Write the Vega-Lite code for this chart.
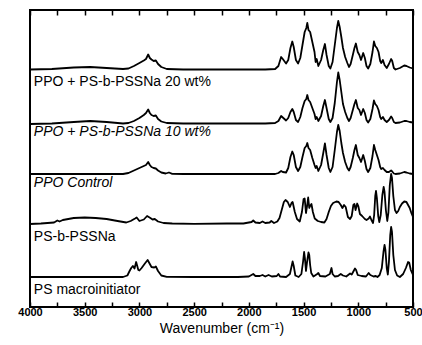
{
"$schema": "https://vega.github.io/schema/vega-lite/v6.json",
"width": 383, "height": 297,
"autosize": {"type": "none"},
"padding": {"left": 30, "top": 10, "right": 9, "bottom": 38},
"background": "white",
"config": {"font": "Liberation Sans", "view": {"stroke": "black", "strokeWidth": 2}},
"datasets": {
"spectra": [
{"s":"20","wn":4000,"a":237.5},{"s":"20","wn":3800,"a":238},{"s":"20","wn":3600,"a":239.5},{"s":"20","wn":3450,"a":240},{"s":"20","wn":3300,"a":239},{"s":"20","wn":3150,"a":238},{"s":"20","wn":3100,"a":238.5},{"s":"20","wn":3050,"a":241},{"s":"20","wn":3000,"a":244},{"s":"20","wn":2960,"a":246.5},{"s":"20","wn":2940,"a":248},{"s":"20","wn":2920,"a":252.5},{"s":"20","wn":2905,"a":249},{"s":"20","wn":2890,"a":247.5},{"s":"20","wn":2870,"a":246},{"s":"20","wn":2850,"a":246.5},{"s":"20","wn":2830,"a":243},{"s":"20","wn":2800,"a":240},{"s":"20","wn":2750,"a":238},{"s":"20","wn":2600,"a":237.5},{"s":"20","wn":2400,"a":237.5},{"s":"20","wn":2200,"a":237.5},{"s":"20","wn":2000,"a":237.5},{"s":"20","wn":1850,"a":237.5},{"s":"20","wn":1760,"a":238},{"s":"20","wn":1730,"a":241},{"s":"20","wn":1705,"a":250},{"s":"20","wn":1690,"a":248},{"s":"20","wn":1660,"a":243.5},{"s":"20","wn":1640,"a":247},{"s":"20","wn":1620,"a":259},{"s":"20","wn":1603,"a":265.5},{"s":"20","wn":1590,"a":260},{"s":"20","wn":1570,"a":247},{"s":"20","wn":1550,"a":243.5},{"s":"20","wn":1530,"a":249},{"s":"20","wn":1510,"a":262},{"s":"20","wn":1490,"a":275},{"s":"20","wn":1475,"a":279},{"s":"20","wn":1466,"a":284},{"s":"20","wn":1455,"a":277},{"s":"20","wn":1440,"a":275},{"s":"20","wn":1420,"a":265},{"s":"20","wn":1400,"a":255},{"s":"20","wn":1390,"a":245},{"s":"20","wn":1380,"a":248},{"s":"20","wn":1365,"a":241},{"s":"20","wn":1340,"a":247},{"s":"20","wn":1320,"a":257},{"s":"20","wn":1305,"a":263},{"s":"20","wn":1290,"a":252},{"s":"20","wn":1270,"a":241},{"s":"20","wn":1255,"a":238.5},{"s":"20","wn":1235,"a":245},{"s":"20","wn":1215,"a":262},{"s":"20","wn":1195,"a":279},{"s":"20","wn":1183,"a":286},{"s":"20","wn":1170,"a":280},{"s":"20","wn":1155,"a":270},{"s":"20","wn":1140,"a":259},{"s":"20","wn":1120,"a":250},{"s":"20","wn":1100,"a":244},{"s":"20","wn":1085,"a":240},{"s":"20","wn":1070,"a":243},{"s":"20","wn":1050,"a":252},{"s":"20","wn":1035,"a":259},{"s":"20","wn":1022,"a":263.5},{"s":"20","wn":1005,"a":255},{"s":"20","wn":990,"a":252},{"s":"20","wn":975,"a":247},{"s":"20","wn":955,"a":254},{"s":"20","wn":940,"a":249},{"s":"20","wn":925,"a":241},{"s":"20","wn":910,"a":238.5},{"s":"20","wn":890,"a":243},{"s":"20","wn":870,"a":255},{"s":"20","wn":857,"a":265.5},{"s":"20","wn":845,"a":261},{"s":"20","wn":830,"a":259},{"s":"20","wn":815,"a":255},{"s":"20","wn":800,"a":246},{"s":"20","wn":790,"a":244},{"s":"20","wn":775,"a":247},{"s":"20","wn":760,"a":242},{"s":"20","wn":740,"a":239},{"s":"20","wn":720,"a":243},{"s":"20","wn":700,"a":248},{"s":"20","wn":690,"a":246},{"s":"20","wn":675,"a":239},{"s":"20","wn":660,"a":237.5},{"s":"20","wn":620,"a":239},{"s":"20","wn":580,"a":241.5},{"s":"20","wn":560,"a":241},{"s":"20","wn":530,"a":239.5},{"s":"20","wn":500,"a":238.5},
{"s":"10","wn":4000,"a":183},{"s":"10","wn":3800,"a":183.5},{"s":"10","wn":3600,"a":185},{"s":"10","wn":3450,"a":186},{"s":"10","wn":3300,"a":185},{"s":"10","wn":3150,"a":183.5},{"s":"10","wn":3100,"a":184},{"s":"10","wn":3050,"a":186},{"s":"10","wn":3000,"a":189},{"s":"10","wn":2960,"a":192},{"s":"10","wn":2940,"a":194},{"s":"10","wn":2920,"a":197.5},{"s":"10","wn":2905,"a":194},{"s":"10","wn":2890,"a":192},{"s":"10","wn":2870,"a":191},{"s":"10","wn":2850,"a":191.5},{"s":"10","wn":2830,"a":188},{"s":"10","wn":2800,"a":185.5},{"s":"10","wn":2750,"a":184},{"s":"10","wn":2600,"a":183.5},{"s":"10","wn":2400,"a":183.5},{"s":"10","wn":2200,"a":183.5},{"s":"10","wn":2000,"a":183.5},{"s":"10","wn":1850,"a":183.5},{"s":"10","wn":1760,"a":184},{"s":"10","wn":1730,"a":186},{"s":"10","wn":1705,"a":191},{"s":"10","wn":1690,"a":189.5},{"s":"10","wn":1660,"a":186.5},{"s":"10","wn":1640,"a":189},{"s":"10","wn":1620,"a":195},{"s":"10","wn":1603,"a":198},{"s":"10","wn":1590,"a":195},{"s":"10","wn":1570,"a":187},{"s":"10","wn":1550,"a":185},{"s":"10","wn":1530,"a":190},{"s":"10","wn":1510,"a":199},{"s":"10","wn":1490,"a":206},{"s":"10","wn":1475,"a":208},{"s":"10","wn":1466,"a":212},{"s":"10","wn":1455,"a":207},{"s":"10","wn":1440,"a":205},{"s":"10","wn":1420,"a":199},{"s":"10","wn":1400,"a":193},{"s":"10","wn":1390,"a":188},{"s":"10","wn":1380,"a":190},{"s":"10","wn":1365,"a":186},{"s":"10","wn":1340,"a":191},{"s":"10","wn":1320,"a":201},{"s":"10","wn":1305,"a":207},{"s":"10","wn":1290,"a":199},{"s":"10","wn":1270,"a":188},{"s":"10","wn":1255,"a":185},{"s":"10","wn":1235,"a":189},{"s":"10","wn":1215,"a":204},{"s":"10","wn":1195,"a":225},{"s":"10","wn":1183,"a":234.5},{"s":"10","wn":1170,"a":227},{"s":"10","wn":1155,"a":215},{"s":"10","wn":1140,"a":203},{"s":"10","wn":1120,"a":195},{"s":"10","wn":1100,"a":189},{"s":"10","wn":1085,"a":186},{"s":"10","wn":1070,"a":189},{"s":"10","wn":1050,"a":197},{"s":"10","wn":1035,"a":203},{"s":"10","wn":1022,"a":207},{"s":"10","wn":1005,"a":199},{"s":"10","wn":990,"a":197},{"s":"10","wn":975,"a":192},{"s":"10","wn":955,"a":198},{"s":"10","wn":940,"a":194},{"s":"10","wn":925,"a":187},{"s":"10","wn":910,"a":184.5},{"s":"10","wn":890,"a":188},{"s":"10","wn":870,"a":198},{"s":"10","wn":857,"a":206.5},{"s":"10","wn":845,"a":203},{"s":"10","wn":830,"a":201},{"s":"10","wn":815,"a":197},{"s":"10","wn":800,"a":190},{"s":"10","wn":790,"a":188},{"s":"10","wn":775,"a":190},{"s":"10","wn":760,"a":187},{"s":"10","wn":740,"a":185},{"s":"10","wn":720,"a":187},{"s":"10","wn":700,"a":190.5},{"s":"10","wn":690,"a":189},{"s":"10","wn":675,"a":185},{"s":"10","wn":660,"a":184},{"s":"10","wn":620,"a":184.5},{"s":"10","wn":580,"a":186},{"s":"10","wn":560,"a":186},{"s":"10","wn":530,"a":185},{"s":"10","wn":500,"a":184.5},
{"s":"C","wn":4000,"a":133},{"s":"C","wn":3600,"a":133},{"s":"C","wn":3300,"a":133},{"s":"C","wn":3150,"a":133},{"s":"C","wn":3100,"a":134},{"s":"C","wn":3050,"a":136.5},{"s":"C","wn":3000,"a":139},{"s":"C","wn":2960,"a":141},{"s":"C","wn":2940,"a":142},{"s":"C","wn":2920,"a":145},{"s":"C","wn":2905,"a":142},{"s":"C","wn":2890,"a":140},{"s":"C","wn":2870,"a":139},{"s":"C","wn":2850,"a":138.5},{"s":"C","wn":2830,"a":136.5},{"s":"C","wn":2800,"a":134.5},{"s":"C","wn":2760,"a":133.5},{"s":"C","wn":2730,"a":134.5},{"s":"C","wn":2700,"a":133.2},{"s":"C","wn":2600,"a":133},{"s":"C","wn":2400,"a":133},{"s":"C","wn":2200,"a":133},{"s":"C","wn":2000,"a":133},{"s":"C","wn":1850,"a":133},{"s":"C","wn":1760,"a":133},{"s":"C","wn":1730,"a":134},{"s":"C","wn":1705,"a":136},{"s":"C","wn":1690,"a":135},{"s":"C","wn":1660,"a":134.5},{"s":"C","wn":1640,"a":139},{"s":"C","wn":1620,"a":150},{"s":"C","wn":1603,"a":155.5},{"s":"C","wn":1590,"a":152},{"s":"C","wn":1570,"a":140},{"s":"C","wn":1550,"a":136},{"s":"C","wn":1530,"a":140},{"s":"C","wn":1510,"a":150},{"s":"C","wn":1490,"a":159},{"s":"C","wn":1475,"a":161},{"s":"C","wn":1466,"a":164},{"s":"C","wn":1455,"a":159},{"s":"C","wn":1440,"a":157},{"s":"C","wn":1420,"a":149},{"s":"C","wn":1400,"a":142},{"s":"C","wn":1390,"a":139},{"s":"C","wn":1380,"a":141},{"s":"C","wn":1365,"a":136},{"s":"C","wn":1340,"a":142},{"s":"C","wn":1320,"a":154},{"s":"C","wn":1305,"a":163.5},{"s":"C","wn":1290,"a":152},{"s":"C","wn":1270,"a":139},{"s":"C","wn":1255,"a":135},{"s":"C","wn":1235,"a":140},{"s":"C","wn":1215,"a":157},{"s":"C","wn":1195,"a":175},{"s":"C","wn":1183,"a":182},{"s":"C","wn":1170,"a":176},{"s":"C","wn":1155,"a":164},{"s":"C","wn":1140,"a":154},{"s":"C","wn":1120,"a":145},{"s":"C","wn":1100,"a":139},{"s":"C","wn":1085,"a":136.5},{"s":"C","wn":1070,"a":140},{"s":"C","wn":1050,"a":149},{"s":"C","wn":1035,"a":157},{"s":"C","wn":1022,"a":162},{"s":"C","wn":1005,"a":152},{"s":"C","wn":990,"a":149},{"s":"C","wn":975,"a":145},{"s":"C","wn":955,"a":152},{"s":"C","wn":940,"a":146},{"s":"C","wn":925,"a":138},{"s":"C","wn":910,"a":135},{"s":"C","wn":890,"a":139},{"s":"C","wn":870,"a":151},{"s":"C","wn":857,"a":162},{"s":"C","wn":845,"a":157},{"s":"C","wn":830,"a":152},{"s":"C","wn":815,"a":147},{"s":"C","wn":800,"a":140},{"s":"C","wn":790,"a":138},{"s":"C","wn":775,"a":139},{"s":"C","wn":760,"a":137},{"s":"C","wn":740,"a":135},{"s":"C","wn":720,"a":135},{"s":"C","wn":700,"a":136.5},{"s":"C","wn":690,"a":135.5},{"s":"C","wn":675,"a":133.5},{"s":"C","wn":660,"a":133},{"s":"C","wn":620,"a":133.5},{"s":"C","wn":580,"a":135},{"s":"C","wn":560,"a":134.5},{"s":"C","wn":530,"a":133.5},{"s":"C","wn":500,"a":133},
{"s":"P","wn":4000,"a":83},{"s":"P","wn":3900,"a":83.5},{"s":"P","wn":3780,"a":84.5},{"s":"P","wn":3750,"a":86.5},{"s":"P","wn":3730,"a":85.5},{"s":"P","wn":3700,"a":87},{"s":"P","wn":3600,"a":89},{"s":"P","wn":3500,"a":89.5},{"s":"P","wn":3400,"a":89},{"s":"P","wn":3300,"a":88},{"s":"P","wn":3200,"a":86},{"s":"P","wn":3120,"a":84.5},{"s":"P","wn":3080,"a":86},{"s":"P","wn":3040,"a":88.5},{"s":"P","wn":3025,"a":89.5},{"s":"P","wn":3000,"a":86},{"s":"P","wn":2960,"a":87.5},{"s":"P","wn":2930,"a":91},{"s":"P","wn":2900,"a":89},{"s":"P","wn":2880,"a":87.5},{"s":"P","wn":2860,"a":88},{"s":"P","wn":2830,"a":85.5},{"s":"P","wn":2780,"a":84},{"s":"P","wn":2700,"a":83.5},{"s":"P","wn":2500,"a":83.2},{"s":"P","wn":2200,"a":83.5},{"s":"P","wn":2050,"a":83.5},{"s":"P","wn":1975,"a":85},{"s":"P","wn":1960,"a":86.5},{"s":"P","wn":1940,"a":84.5},{"s":"P","wn":1900,"a":84},{"s":"P","wn":1875,"a":85.5},{"s":"P","wn":1850,"a":84},{"s":"P","wn":1810,"a":84.5},{"s":"P","wn":1795,"a":86},{"s":"P","wn":1770,"a":84},{"s":"P","wn":1740,"a":85.5},{"s":"P","wn":1720,"a":89},{"s":"P","wn":1700,"a":97},{"s":"P","wn":1680,"a":105},{"s":"P","wn":1665,"a":107},{"s":"P","wn":1645,"a":105},{"s":"P","wn":1625,"a":100},{"s":"P","wn":1610,"a":104},{"s":"P","wn":1600,"a":105},{"s":"P","wn":1580,"a":95},{"s":"P","wn":1560,"a":88},{"s":"P","wn":1535,"a":85.5},{"s":"P","wn":1515,"a":95},{"s":"P","wn":1500,"a":108},{"s":"P","wn":1490,"a":108.5},{"s":"P","wn":1478,"a":94},{"s":"P","wn":1468,"a":101},{"s":"P","wn":1458,"a":109.5},{"s":"P","wn":1448,"a":99},{"s":"P","wn":1440,"a":101},{"s":"P","wn":1428,"a":103},{"s":"P","wn":1415,"a":95},{"s":"P","wn":1398,"a":88.5},{"s":"P","wn":1370,"a":86},{"s":"P","wn":1340,"a":85},{"s":"P","wn":1310,"a":84.5},{"s":"P","wn":1290,"a":88},{"s":"P","wn":1270,"a":95},{"s":"P","wn":1250,"a":101},{"s":"P","wn":1230,"a":104},{"s":"P","wn":1200,"a":105.5},{"s":"P","wn":1180,"a":105},{"s":"P","wn":1160,"a":102},{"s":"P","wn":1145,"a":99},{"s":"P","wn":1130,"a":102},{"s":"P","wn":1115,"a":100},{"s":"P","wn":1095,"a":90},{"s":"P","wn":1075,"a":88},{"s":"P","wn":1060,"a":91},{"s":"P","wn":1045,"a":102},{"s":"P","wn":1035,"a":103},{"s":"P","wn":1025,"a":97},{"s":"P","wn":1010,"a":103.5},{"s":"P","wn":1000,"a":101},{"s":"P","wn":985,"a":93},{"s":"P","wn":965,"a":91},{"s":"P","wn":940,"a":88},{"s":"P","wn":925,"a":87},{"s":"P","wn":905,"a":88.5},{"s":"P","wn":893,"a":90.5},{"s":"P","wn":880,"a":87},{"s":"P","wn":865,"a":84},{"s":"P","wn":855,"a":92},{"s":"P","wn":845,"a":111},{"s":"P","wn":838,"a":116},{"s":"P","wn":830,"a":109},{"s":"P","wn":818,"a":91},{"s":"P","wn":808,"a":85},{"s":"P","wn":795,"a":92},{"s":"P","wn":780,"a":112},{"s":"P","wn":768,"a":120},{"s":"P","wn":760,"a":115},{"s":"P","wn":748,"a":97},{"s":"P","wn":735,"a":86},{"s":"P","wn":725,"a":94},{"s":"P","wn":712,"a":122},{"s":"P","wn":700,"a":133},{"s":"P","wn":692,"a":129},{"s":"P","wn":680,"a":111},{"s":"P","wn":665,"a":97},{"s":"P","wn":650,"a":94},{"s":"P","wn":635,"a":96},{"s":"P","wn":620,"a":100},{"s":"P","wn":600,"a":103.5},{"s":"P","wn":580,"a":105.5},{"s":"P","wn":560,"a":105},{"s":"P","wn":545,"a":102},{"s":"P","wn":530,"a":99},{"s":"P","wn":515,"a":94},{"s":"P","wn":500,"a":90},
{"s":"M","wn":4000,"a":30},{"s":"M","wn":3600,"a":30},{"s":"M","wn":3300,"a":30},{"s":"M","wn":3150,"a":30},{"s":"M","wn":3110,"a":31.5},{"s":"M","wn":3090,"a":36},{"s":"M","wn":3075,"a":39},{"s":"M","wn":3060,"a":41},{"s":"M","wn":3045,"a":38.5},{"s":"M","wn":3030,"a":45},{"s":"M","wn":3025,"a":43},{"s":"M","wn":3010,"a":37},{"s":"M","wn":3000,"a":36.5},{"s":"M","wn":2980,"a":39},{"s":"M","wn":2950,"a":43.5},{"s":"M","wn":2925,"a":47},{"s":"M","wn":2910,"a":44},{"s":"M","wn":2890,"a":40},{"s":"M","wn":2865,"a":39.5},{"s":"M","wn":2850,"a":40.5},{"s":"M","wn":2830,"a":36},{"s":"M","wn":2800,"a":31.5},{"s":"M","wn":2750,"a":30.2},{"s":"M","wn":2500,"a":30},{"s":"M","wn":2100,"a":30},{"s":"M","wn":2000,"a":30.5},{"s":"M","wn":1960,"a":33},{"s":"M","wn":1940,"a":31},{"s":"M","wn":1900,"a":31},{"s":"M","wn":1875,"a":32},{"s":"M","wn":1850,"a":30.5},{"s":"M","wn":1820,"a":32},{"s":"M","wn":1790,"a":30.5},{"s":"M","wn":1745,"a":31},{"s":"M","wn":1730,"a":33},{"s":"M","wn":1715,"a":30.5},{"s":"M","wn":1660,"a":30},{"s":"M","wn":1625,"a":33},{"s":"M","wn":1605,"a":43},{"s":"M","wn":1600,"a":45.5},{"s":"M","wn":1590,"a":41},{"s":"M","wn":1575,"a":31.5},{"s":"M","wn":1545,"a":30},{"s":"M","wn":1520,"a":33},{"s":"M","wn":1505,"a":45},{"s":"M","wn":1495,"a":55},{"s":"M","wn":1488,"a":49},{"s":"M","wn":1478,"a":36},{"s":"M","wn":1468,"a":45},{"s":"M","wn":1455,"a":54.5},{"s":"M","wn":1448,"a":52},{"s":"M","wn":1440,"a":42},{"s":"M","wn":1430,"a":34},{"s":"M","wn":1410,"a":30.5},{"s":"M","wn":1375,"a":33},{"s":"M","wn":1365,"a":34},{"s":"M","wn":1350,"a":31},{"s":"M","wn":1300,"a":30.5},{"s":"M","wn":1260,"a":33},{"s":"M","wn":1245,"a":39},{"s":"M","wn":1235,"a":33},{"s":"M","wn":1215,"a":30.5},{"s":"M","wn":1185,"a":31},{"s":"M","wn":1160,"a":33},{"s":"M","wn":1140,"a":31.5},{"s":"M","wn":1110,"a":30.5},{"s":"M","wn":1075,"a":33.5},{"s":"M","wn":1060,"a":32.5},{"s":"M","wn":1030,"a":38.5},{"s":"M","wn":1020,"a":37},{"s":"M","wn":1005,"a":32},{"s":"M","wn":970,"a":31},{"s":"M","wn":930,"a":30.5},{"s":"M","wn":905,"a":34},{"s":"M","wn":890,"a":32},{"s":"M","wn":860,"a":30.5},{"s":"M","wn":840,"a":31},{"s":"M","wn":825,"a":30},{"s":"M","wn":805,"a":32},{"s":"M","wn":785,"a":39},{"s":"M","wn":770,"a":55},{"s":"M","wn":760,"a":62},{"s":"M","wn":752,"a":57},{"s":"M","wn":740,"a":39},{"s":"M","wn":730,"a":32.5},{"s":"M","wn":720,"a":45},{"s":"M","wn":708,"a":72},{"s":"M","wn":700,"a":80},{"s":"M","wn":692,"a":75},{"s":"M","wn":680,"a":52},{"s":"M","wn":665,"a":37},{"s":"M","wn":645,"a":31.5},{"s":"M","wn":620,"a":30},{"s":"M","wn":590,"a":33},{"s":"M","wn":565,"a":39},{"s":"M","wn":545,"a":45},{"s":"M","wn":535,"a":44.5},{"s":"M","wn":520,"a":37},{"s":"M","wn":500,"a":32}
],
"labels": [
{"wn":3965,"a":225,"label":"PPO + PS-b-PSSNa 20 wt%","it":false},
{"wn":3965,"a":175,"label":"PPO + PS-b-PSSNa 10 wt%","it":true},
{"wn":3965,"a":124,"label":"PPO Control","it":true},
{"wn":3965,"a":70,"label":"PS-b-PSSNa","it":false},
{"wn":3965,"a":17,"label":"PS macroinitiator","it":false}
]
},
"resolve": {"axis": {"x": "independent"}},
"layer": [
{
"data": {"name": "spectra"},
"mark": {"type": "line", "color": "black", "strokeWidth": 1.8, "strokeJoin": "round"},
"encoding": {
"x": {"field": "wn", "type": "quantitative",
"scale": {"domain": [500, 4000], "reverse": true, "nice": false, "zero": false},
"axis": {"orient": "bottom", "values": [4000,3750,3500,3250,3000,2750,2500,2250,2000,1750,1500,1250,1000,750,500],
"labelExpr": "datum.value % 500 === 0 ? format(datum.value, 'd') : ''",
"tickSize": -5, "tickColor": "black", "tickWidth": 1.5, "domain": false, "grid": false,
"labelFontSize": 11, "labelFontWeight": "bold", "labelColor": "black", "labelPadding": 4, "labelFlush": false, "labelOverlap": false,
"title": "Wavenumber (cm⁻¹)", "titleFontSize": 14, "titleFontWeight": "normal", "titleColor": "black", "titlePadding": 4}},
"y": {"field": "a", "type": "quantitative",
"scale": {"domain": [0, 297], "nice": false, "zero": false},
"axis": {"orient": "left", "ticks": false, "labels": false, "domain": false, "grid": false,
"title": "Normalized absorbance", "titleFontSize": 14.5, "titleFontWeight": "normal", "titleColor": "black", "titlePadding": 9}},
"detail": {"field": "s", "type": "nominal"}
}
},
{
"data": {"name": "labels"},
"transform": [{"filter": "!datum.it"}],
"mark": {"type": "text", "align": "left", "baseline": "middle", "fontSize": 14, "color": "black"},
"encoding": {
"x": {"field": "wn", "type": "quantitative",
"axis": {"orient": "top", "values": [4000,3750,3500,3250,3000,2750,2500,2250,2000,1750,1500,1250,1000,750,500],
"labels": false, "tickSize": -5, "tickColor": "black", "tickWidth": 1.5, "domain": false, "grid": false, "title": null}},
"y": {"field": "a", "type": "quantitative", "axis": null},
"text": {"field": "label"}
}
},
{
"data": {"name": "labels"},
"transform": [{"filter": "datum.it"}],
"mark": {"type": "text", "align": "left", "baseline": "middle", "fontSize": 14, "fontStyle": "italic", "color": "black"},
"encoding": {
"x": {"field": "wn", "type": "quantitative", "axis": null},
"y": {"field": "a", "type": "quantitative", "axis": null},
"text": {"field": "label"}
}
}
]
}
